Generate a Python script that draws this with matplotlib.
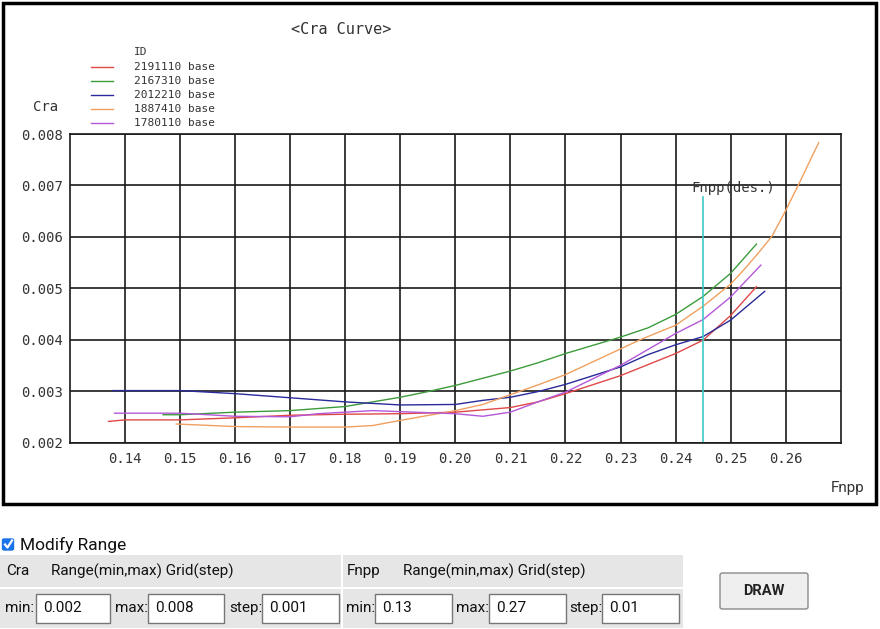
import matplotlib
matplotlib.use("Agg")
import matplotlib.pyplot as plt
from matplotlib.patches import Rectangle, FancyBboxPatch
from matplotlib.lines import Line2D

W, H = 880, 629

# series (Fnpp -> Cra)
ids = ["2191110 base", "2167310 base", "2012210 base", "1887410 base", "1780110 base"]
colors = ["#e04848", "#3c9c3c", "#2a2a9a", "#f0a060", "#b458d8"]

red_x = [0.137, 0.14, 0.15, 0.16, 0.17, 0.18, 0.19, 0.20, 0.21, 0.215, 0.22, 0.23, 0.24, 0.245, 0.25, 0.2547]
red_y = [0.00241, 0.00244, 0.00244, 0.00248, 0.00253, 0.00255, 0.00256, 0.00259, 0.00268, 0.00279,
         0.00295, 0.0033, 0.00373, 0.00399, 0.00447, 0.00503]

green_x = [0.1469, 0.15, 0.16, 0.17, 0.18, 0.19, 0.195, 0.20, 0.21, 0.215, 0.22, 0.23, 0.235, 0.24,
           0.245, 0.25, 0.2547]
green_y = [0.00254, 0.00254, 0.00259, 0.00262, 0.0027, 0.00288, 0.00299, 0.00311, 0.00339, 0.00355,
           0.00373, 0.00405, 0.00423, 0.00449, 0.00484, 0.00529, 0.00586]

blue_x = [0.1378, 0.15, 0.155, 0.16, 0.17, 0.18, 0.19, 0.20, 0.205, 0.21, 0.215, 0.22, 0.23, 0.235,
          0.24, 0.245, 0.25, 0.2562]
blue_y = [0.00301, 0.00301, 0.00298, 0.00295, 0.00287, 0.00279, 0.00273, 0.00274, 0.00282, 0.00288,
          0.00299, 0.00313, 0.00347, 0.00371, 0.0039, 0.00406, 0.00438, 0.00494]

orange_x = [0.1493, 0.16, 0.17, 0.18, 0.185, 0.19, 0.20, 0.205, 0.21, 0.215, 0.22, 0.23, 0.2336, 0.24,
            0.245, 0.25, 0.2525, 0.255, 0.2575, 0.26, 0.2625, 0.265, 0.266]
orange_y = [0.00236, 0.00231, 0.0023, 0.0023, 0.00233, 0.00243, 0.00262, 0.00274, 0.00293, 0.00312,
            0.00332, 0.00382, 0.004, 0.00428, 0.00465, 0.00508, 0.00537, 0.00568, 0.00601, 0.00651,
            0.00705, 0.00761, 0.00783]

purple_x = [0.1381, 0.15, 0.16, 0.17, 0.175, 0.18, 0.185, 0.19, 0.20, 0.205, 0.21, 0.215, 0.22, 0.23,
            0.24, 0.245, 0.25, 0.2555]
purple_y = [0.00257, 0.00257, 0.00251, 0.0025, 0.00256, 0.00259, 0.00262, 0.0026, 0.00256, 0.00251,
            0.00259, 0.00279, 0.00298, 0.0035, 0.00412, 0.00439, 0.00483, 0.00545]

series = [(red_x, red_y), (green_x, green_y), (blue_x, blue_y), (orange_x, orange_y), (purple_x, purple_y)]

fnpp_des = 0.245
des_top = 0.00678
cra_min, cra_max, cra_step = 0.002, 0.008, 0.001
fnpp_min, fnpp_max, fnpp_step = 0.13, 0.27, 0.01
cra_ticks = [0.002, 0.003, 0.004, 0.005, 0.006, 0.007, 0.008]
fnpp_ticks = [0.14, 0.15, 0.16, 0.17, 0.18, 0.19, 0.20, 0.21, 0.22, 0.23, 0.24, 0.25, 0.26]

MONO = "DejaVu Sans Mono"
SANS = "Roboto"
TXT = "#333333"
INK = "#111111"

fig = plt.figure(figsize=(W / 100, H / 100), dpi=100)


def fx(px):
    return px / W


def fy(py):
    return 1 - py / H


def rect(x0, y0, x1, y1, **kw):
    fig.add_artist(Rectangle((fx(x0), fy(y1)), (x1 - x0) / W, (y1 - y0) / H,
                             transform=fig.transFigure, **kw))


def text(x, y, s, **kw):
    kw.setdefault("va", "center")
    kw.setdefault("color", TXT)
    fig.text(fx(x), fy(y), s, **kw)


# chart panel border
rect(3, 3, 876, 504, fill=False, edgecolor="black", linewidth=2.5)

ax = fig.add_axes([fx(70), fy(442.5), (840.7 - 70) / W, (442.5 - 134) / H])
for (xs, ys), c in zip(series, colors):
    ax.plot(xs, ys, color=c, linewidth=1.0)
ax.plot([fnpp_des, fnpp_des], [cra_min, des_top], color="#40c8c8", linewidth=1.2)
ax.text(fnpp_des - 0.0021, des_top + 0.00004, "Fnpp(des.)", family=MONO, fontsize=10,
        color=TXT, va="bottom", ha="left")

ax.set_xlim(fnpp_min, fnpp_max)
ax.set_ylim(cra_min, cra_max)
ax.set_xticks(fnpp_ticks)
ax.set_yticks(cra_ticks)
ax.set_xticklabels([f"{t:.2f}" for t in fnpp_ticks], family=MONO, fontsize=10, color=TXT)
ax.set_yticklabels([f"{t:.3f}" for t in cra_ticks], family=MONO, fontsize=10, color=TXT)
ax.tick_params(length=0)
ax.tick_params(axis="y", pad=5)
ax.tick_params(axis="x", pad=7)
ax.grid(True, color="#1a1a1a", linewidth=1.2)
ax.set_axisbelow(True)
for sp in ax.spines.values():
    sp.set_color("#1a1a1a")
    sp.set_linewidth(1.2)

text(341, 29, "<Cra Curve>", family=MONO, fontsize=11, ha="center")
text(46, 107, "Cra", family=MONO, fontsize=10, ha="center")
text(848, 488, "Fnpp", family=SANS, fontsize=11, ha="center")

# legend
text(134, 52, "ID", family=MONO, fontsize=8, ha="left")
for i, (lab, c) in enumerate(zip(ids, colors)):
    y = 66.5 + i * 14.1
    fig.add_artist(Line2D([fx(91), fx(113)], [fy(y), fy(y)], color=c, linewidth=1.0,
                          transform=fig.transFigure))
    text(134, y, lab, family=MONO, fontsize=8, ha="left")

# range form under the chart
fig.add_artist(FancyBboxPatch((fx(2.5), fy(550)), 11 / W, 11 / H, boxstyle="round,pad=0,rounding_size=0.002",
                              transform=fig.transFigure, facecolor="#1a73e8", edgecolor="#1a73e8"))
fig.add_artist(Line2D([fx(5), fx(7.5), fx(12)], [fy(544.5), fy(547.5), fy(540.5)], color="white",
                      linewidth=1.6, transform=fig.transFigure))
text(20, 545, "Modify Range", family=SANS, fontsize=12.5, color=INK, ha="left")

GRAY = "#e6e6e6"
rect(0, 555, 341, 586.5, facecolor=GRAY, edgecolor="none")
rect(343, 555, 683, 586.5, facecolor=GRAY, edgecolor="none")
rect(0, 588.5, 341, 628, facecolor=GRAY, edgecolor="none")
rect(343, 588.5, 683, 628, facecolor=GRAY, edgecolor="none")

text(6, 571, "Cra", family=SANS, fontsize=11, color=INK, ha="left")
text(51, 571, "Range(min,max) Grid(step)", family=SANS, fontsize=11, color=INK, ha="left")
text(347, 571, "Fnpp", family=SANS, fontsize=11, color=INK, ha="left")
text(403, 571, "Range(min,max) Grid(step)", family=SANS, fontsize=11, color=INK, ha="left")

fields = [
    (5, "min:", 35.5, 110, cra_min), (115, "max:", 148, 224, cra_max), (229, "step:", 262, 339, cra_step),
    (346, "min:", 375, 452, fnpp_min), (456, "max:", 489, 566, fnpp_max), (569, "step:", 602, 679, fnpp_step),
]
for lx, lab, bx0, bx1, val in fields:
    text(lx, 608, lab, family=SANS, fontsize=11, color=INK, ha="left")
    rect(bx0, 594, bx1, 623, facecolor="white", edgecolor="#767676", linewidth=1)
    text(bx0 + 7.5, 608, f"{val:g}", family=SANS, fontsize=11, color=INK, ha="left")

fig.add_artist(FancyBboxPatch((fx(720), fy(609)), 88 / W, 36 / H, boxstyle="round,pad=0,rounding_size=0.003",
                              transform=fig.transFigure, facecolor="#efefef", edgecolor="#8a8a8a",
                              linewidth=1))
text(764, 591, "DRAW", family=SANS, fontsize=10.5, weight="bold", color="#222222", ha="center")

fig.savefig("out.png", dpi=100)
